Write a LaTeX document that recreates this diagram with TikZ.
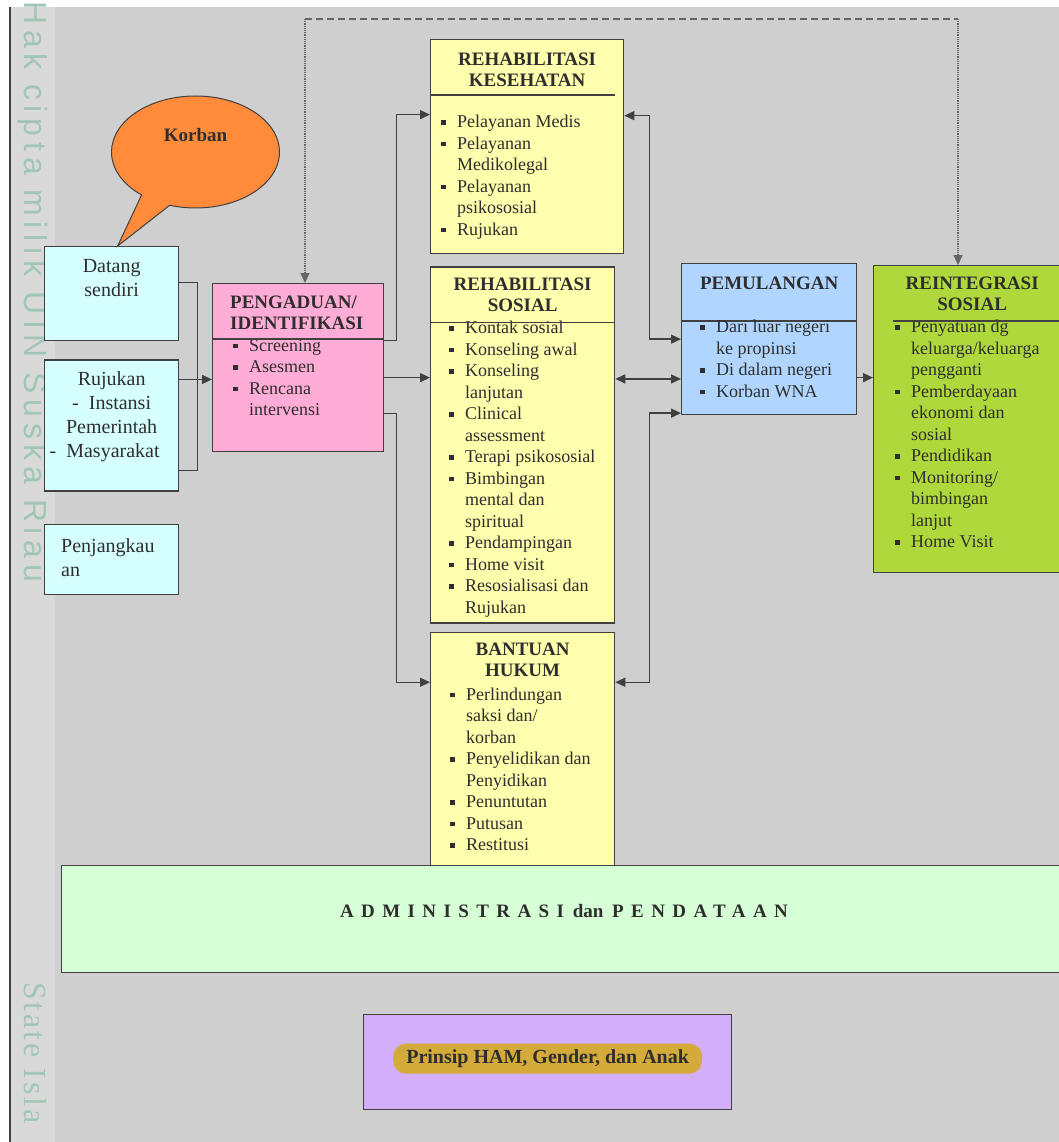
\documentclass[tikz,border=0pt]{standalone}
\usepackage{fontspec}
\setmainfont{Liberation Serif}
\newfontfamily\wmsans[LetterSpace=18]{Liberation Sans}
\newfontfamily\wmserif[LetterSpace=9]{Liberation Serif}
\usetikzlibrary{positioning,arrows.meta,shapes.callouts}

\definecolor{bggray}{HTML}{CFCFCF}
\definecolor{stripgray}{HTML}{D9D9D9}
\definecolor{edgegray}{HTML}{404040}
\definecolor{inkgray}{HTML}{2E2E2E}
\definecolor{wmark}{HTML}{A2C6B6}
\definecolor{korbfill}{HTML}{FF8B3B}
\definecolor{cyanfill}{HTML}{D6FFFF}
\definecolor{pinkfill}{HTML}{FFADD6}
\definecolor{yelfill}{HTML}{FFFFAD}
\definecolor{bluefill}{HTML}{B0D6FF}
\definecolor{limefill}{HTML}{AED83B}
\definecolor{mintfill}{HTML}{D6FFD6}
\definecolor{lilacfill}{HTML}{D3AEFA}
\definecolor{goldfill}{HTML}{D4AA3A}

\newcommand{\bsq}{\makebox[16pt][l]{\rule[3pt]{4.5pt}{4.5pt}}}
\newcommand{\hng}{\hspace*{16pt}}

\tikzset{
  panel/.style={draw=edgegray,line width=1.3pt,inner sep=0pt},
  head/.style={font=\bfseries\fontsize{19}{21}\selectfont,align=center,text=inkgray,inner sep=0pt},
  items/.style={font=\fontsize{18}{21.5}\selectfont,align=left,text=inkgray,inner sep=0pt},
  src/.style={font=\fontsize{20}{24}\selectfont,align=center,text=inkgray,inner sep=0pt},
  wire/.style={draw=edgegray,line width=1.4pt},
  arr/.style={wire,-{Triangle[length=10pt,width=9pt]}},
  darr/.style={wire,{Triangle[length=10pt,width=9pt]}-{Triangle[length=10pt,width=9pt]}},
  dotarr/.style={draw=edgegray!80,line width=1.2pt,densely dotted,-{Triangle[length=10pt,width=9pt]}}
}

\begin{document}
\begin{tikzpicture}[x=1pt,y=-1pt]
  \useasboundingbox (0,0) rectangle (1059,1142);
  \clip (0,0) rectangle (1059,1142);
  % page, grey sheet, watermark strip
  \fill[white] (0,0) rectangle (1059,1142);
  \fill[bggray] (10,7) rectangle (1059,1142);
  \fill[stripgray] (10,7) rectangle (55,1142);
  \draw[edgegray,line width=1.5pt] (10,7) -- (10,1142);
  \node[text=wmark,font=\wmsans\fontsize{32}{32}\selectfont,rotate=-90,anchor=base west,inner sep=0pt] (wmtop) at (24,1) {Hak cipta milik UIN Suska Riau};
  \node[text=wmark,font=\wmserif\fontsize{32}{32}\selectfont,rotate=-90,anchor=base west,inner sep=0pt] (wmbot) at (24,982) {State Isla};

  % where the victims come from
  \node[panel,fill=cyanfill,minimum width=134pt,minimum height=94pt,anchor=north west] (datang) at (44,246) {};
  \node[panel,fill=cyanfill,minimum width=134pt,minimum height=131pt,below=18pt of datang] (ruj) {};
  \node[panel,fill=cyanfill,minimum width=134pt,minimum height=70pt,below=32pt of ruj] (jangkau) {};
  \node[src,below=13.5pt of datang.north] (datangtxt) {Datang\\sendiri};
  \node[src,below=12pt of ruj.north] (rujtxt) {Rujukan\\-\ \ Instansi\hspace*{14pt}\\Pemerintah\\-\ \ Masyarakat\hspace*{14pt}};
  \node[src,align=left,below right=15pt and 17pt of jangkau.north west] (jangkautxt) {Penjangkau\\an};

  \node[ellipse callout,draw=edgegray,line width=1pt,fill=korbfill,minimum width=168pt,minimum height=112pt,
        callout absolute pointer={([xshift=6pt]datang.north)},callout pointer arc=22] (korban) at (195.5,152) {};
  \node[font=\bfseries\fontsize{19}{21}\selectfont,text=inkgray] (korbanlbl) at ([yshift=17pt]korban.center) {Korban};

  % intake
  \node[panel,fill=pinkfill,minimum width=171pt,minimum height=168pt,anchor=north west] (peng) at (212,283) {};
  \node[head,align=left,below right=12.5pt and 18pt of peng.north west] (penghead) {PENGADUAN/\\IDENTIFIKASI};
  \node[items,below right=56pt and 21pt of peng.north west] (pengitems) {\bsq Screening\\\bsq Asesmen\\\bsq Rencana\\\hng intervensi};
  \draw[wire] ([yshift=-56pt]peng.north west) -- ([yshift=-56pt]peng.north east);

  % services
  \node[panel,fill=yelfill,minimum width=193pt,minimum height=214pt,anchor=north west] (kes) at (430,39) {};
  \node[head,below=13.5pt of kes.north] (keshead) {REHABILITASI\\KESEHATAN};
  \draw[wire] ([yshift=-56pt]kes.north west) -- ++(185pt,0);
  \node[items,below right=76pt and 11pt of kes.north west] (kesitems) {\bsq Pelayanan Medis\\\bsq Pelayanan\\\hng Medikolegal\\\bsq Pelayanan\\\hng psikososial\\\bsq Rujukan};

  \node[panel,fill=yelfill,minimum width=184pt,minimum height=356pt,below=12pt of kes.south west,anchor=north west] (sos) {};
  \node[head,below=11.5pt of sos.north] (soshead) {REHABILITASI\\SOSIAL};
  \node[items,below right=55pt and 19pt of sos.north west] (sositems) {\bsq Kontak sosial\\\bsq Konseling awal\\\bsq Konseling\\\hng lanjutan\\\bsq Clinical\\\hng assessment\\\bsq Terapi psikososial\\\bsq Bimbingan\\\hng mental dan\\\hng spiritual\\\bsq Pendampingan\\\bsq Home visit\\\bsq Resosialisasi dan\\\hng Rujukan};
  \draw[wire] ([yshift=-56pt]sos.north west) -- ([yshift=-56pt]sos.north east);

  \node[panel,fill=yelfill,minimum width=184pt,minimum height=240pt,below=8pt of sos.south west,anchor=north west] (ban) {};
  \node[head,below=11.5pt of ban.north] (banhead) {BANTUAN\\HUKUM};
  \node[items,below right=56pt and 20pt of ban.north west] (banitems) {\bsq Perlindungan\\\hng saksi dan/\\\hng korban\\\bsq Penyelidikan dan\\\hng Penyidikan\\\bsq Penuntutan\\\bsq Putusan\\\bsq Restitusi};

  % return and reintegration
  \node[panel,fill=bluefill,minimum width=175pt,minimum height=151pt,anchor=north west] (pem) at (681,263) {};
  \node[head,below=13.5pt of pem.north] (pemhead) {PEMULANGAN};
  \draw[wire] ([yshift=-58pt]pem.north west) -- ([yshift=-58pt]pem.north east);
  \node[items,below right=57pt and 19pt of pem.north west] (pemitems) {\bsq Dari luar negeri\\\hng ke propinsi\\\bsq Di dalam negeri\\\bsq Korban WNA};

  \node[panel,fill=limefill,minimum width=197pt,minimum height=307pt,anchor=north west] (rei) at (873,265) {};
  \node[head,below=11.5pt of rei.north] (reihead) {REINTEGRASI\\SOSIAL};
  \node[items,below right=55pt and 22pt of rei.north west] (reiitems) {\bsq Penyatuan dg\\\hng keluarga/keluarga\\\hng pengganti\\\bsq Pemberdayaan\\\hng ekonomi dan\\\hng sosial\\\bsq Pendidikan\\\bsq Monitoring/\\\hng bimbingan\\\hng lanjut\\\bsq Home Visit};
  \draw[wire] ([yshift=-56pt,xshift=20pt]rei.north west) -- ([yshift=-56pt]rei.north east);

  % bottom bands
  \node[panel,fill=mintfill,minimum width=1010pt,minimum height=107pt,anchor=north west] (admin) at (61,865) {};
  \node[font=\bfseries\fontsize{19}{21}\selectfont,text=inkgray] (admintxt) at (564,911)
    {{\addfontfeatures{LetterSpace=39}ADMINISTRASI}\hspace{4pt} dan\hspace{4pt} {\addfontfeatures{LetterSpace=39}PENDATAAN}};
  \node[panel,fill=lilacfill,minimum width=368pt,minimum height=95pt,anchor=north west] (prinsip) at (363,1014) {};
  \node[fill=goldfill,rounded corners=13pt,font=\bfseries\fontsize{20}{22}\selectfont,text=inkgray,
        minimum width=309pt,minimum height=30pt,inner sep=0pt] (prinsiptxt) at ([yshift=3.5pt]prinsip.center) {Prinsip HAM, Gender, dan Anak};

  % connectors
  \draw[wire] ([yshift=11pt]datang.east) -- ++(18pt,0) |- ([yshift=-45pt]ruj.east);
  \draw[arr] ([yshift=46pt]ruj.east) -- ([yshift=46pt]ruj.east -| peng.west);
  \draw[arr] ([yshift=27pt]peng.east) -- ++(12pt,0) |- ([yshift=32pt]kes.west);
  \draw[arr] ([yshift=-10pt]peng.east) -- ([yshift=-10pt]peng.east -| sos.west);
  \draw[arr] ([yshift=-46pt]peng.east) -- ++(12pt,0) |- ([yshift=70pt]ban.west);
  \draw[darr] ([yshift=31pt]kes.east) -- ++(25pt,0) |- (pem.west);
  \draw[darr] ([yshift=66pt]sos.east) -- ([yshift=66pt]sos.east -| pem.west);
  \draw[darr] ([yshift=70pt]ban.east) -- ++(34pt,0) |- ([yshift=-74pt]pem.west);
  \draw[arr] ([yshift=-38.5pt]pem.east) -- ([yshift=-38.5pt]pem.east -| rei.west);

  \coordinate (loopl) at (305,19);
  \coordinate (loopr) at (958,19);
  \draw[draw=edgegray!80,line width=1.2pt,dash pattern=on 7pt off 4pt] (loopl) -- (loopr);
  \draw[dotarr] (loopl) -- (loopl |- peng.north);
  \draw[dotarr] (loopr) -- (loopr |- rei.north);
\end{tikzpicture}
\end{document}
